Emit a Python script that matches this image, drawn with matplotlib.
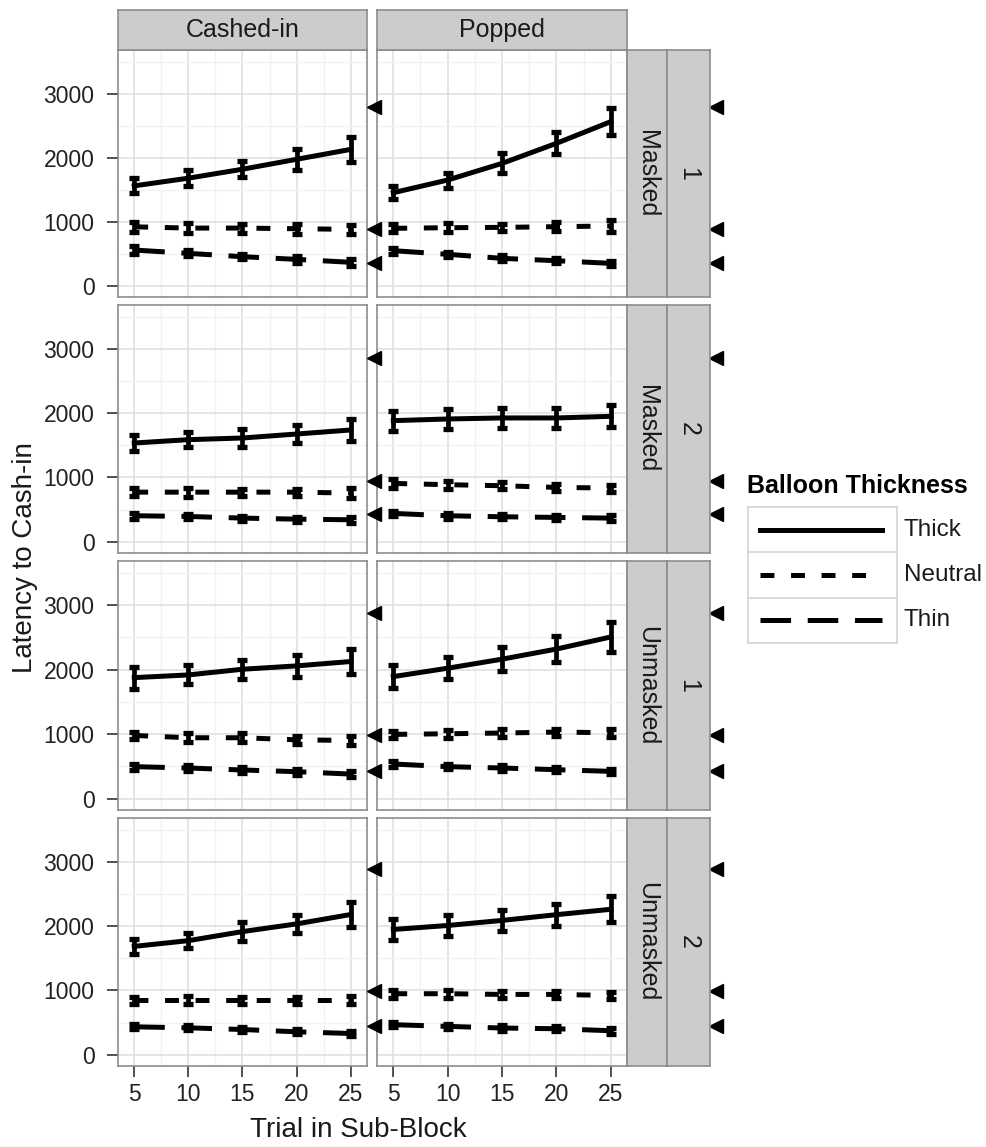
import matplotlib
matplotlib.use("Agg")
import matplotlib.pyplot as plt
import matplotlib.transforms as mtransforms
from matplotlib.lines import Line2D

plt.rcParams['font.family'] = ['Liberation Sans', 'DejaVu Sans']
plt.rcParams['lines.scale_dashes'] = False

trials = [5, 10, 15, 20, 25]
col_labels = ['Cashed-in', 'Popped']
row_masks = ['Masked', 'Masked', 'Unmasked', 'Unmasked']
row_blocks = ['1', '2', '1', '2']
thickness = ['Thick', 'Neutral', 'Thin']

# mean latency per panel, rows are Thick / Neutral / Thin
masked1_cashed = [[1560, 1680, 1820, 1975, 2130], [920, 900, 900, 890, 880], [557, 505, 453, 411, 365]]
masked1_cashed_err = [[115, 120, 125, 160, 190], [80, 80, 70, 80, 75], [60, 45, 40, 50, 55]]
masked1_popped = [[1453, 1651, 1911, 2224, 2563], [896, 906, 911, 922, 932], [547, 490, 427, 390, 349]]
masked1_popped_err = [[105, 117, 156, 170, 214], [65, 70, 60, 75, 90], [45, 40, 45, 40, 40]]

masked2_cashed = [[1535, 1587, 1613, 1675, 1738], [770, 770, 770, 770, 756], [403, 392, 366, 350, 340]]
masked2_cashed_err = [[125, 117, 135, 143, 168], [60, 70, 55, 55, 75], [45, 40, 40, 40, 45]]
masked2_popped = [[1883, 1909, 1925, 1925, 1950], [906, 886, 870, 844, 834], [439, 403, 387, 377, 366]]
masked2_popped_err = [[155, 155, 155, 160, 170], [65, 60, 55, 55, 55], [40, 45, 40, 45, 45]]

unmasked1_cashed = [[1875, 1917, 2005, 2057, 2125], [979, 943, 943, 911, 901], [495, 474, 443, 417, 380]]
unmasked1_cashed_err = [[169, 148, 148, 169, 188], [60, 70, 70, 60, 75], [45, 45, 45, 45, 50]]
unmasked1_popped = [[1891, 2021, 2161, 2318, 2505], [995, 1005, 1016, 1031, 1021], [536, 495, 474, 448, 422]]
unmasked1_popped_err = [[182, 169, 190, 203, 234], [60, 65, 55, 55, 60], [45, 40, 40, 40, 40]]

unmasked2_cashed = [[1685, 1774, 1915, 2035, 2181], [849, 849, 849, 849, 849], [433, 417, 391, 355, 329]]
unmasked2_cashed_err = [[122, 117, 143, 143, 188], [55, 65, 55, 55, 65], [40, 40, 40, 40, 40]]
unmasked2_popped = [[1948, 2010, 2089, 2178, 2262], [948, 948, 937, 937, 921], [466, 440, 414, 403, 372]]
unmasked2_popped_err = [[161, 169, 161, 169, 204], [60, 60, 55, 55, 60], [40, 35, 40, 40, 45]]

# triangle markers drawn beside each row
row_markers = [[2792, 886, 355], [2855, 948, 429], [2870, 979, 432], [2896, 991, 443]]

panels = [
    [(masked1_cashed, masked1_cashed_err), (masked1_popped, masked1_popped_err)],
    [(masked2_cashed, masked2_cashed_err), (masked2_popped, masked2_popped_err)],
    [(unmasked1_cashed, unmasked1_cashed_err), (unmasked1_popped, unmasked1_popped_err)],
    [(unmasked2_cashed, unmasked2_cashed_err), (unmasked2_popped, unmasked2_popped_err)],
]

styles = {
    'Thick': '-',
    'Neutral': (0, (10, 12)),
    'Thin': (0, (22, 12)),
}

W, H = 987, 1147
fig = plt.figure(figsize=(W / 100, H / 100), dpi=100)


def rect(x0, y0, x1, y1):
    return [x0 / W, 1 - y1 / H, (x1 - x0) / W, (y1 - y0) / H]


col_x = [(118, 367), (377, 627)]
row_y = [(50, 297), (305, 553), (561, 810), (818, 1066)]
border = '#8C8C8C'
strip_fill = '#CCCCCC'
txt = '#1A1A1A'


def strip(x0, y0, x1, y1, label, rotation=0):
    s = fig.add_axes(rect(x0, y0, x1, y1))
    s.set_facecolor(strip_fill)
    s.set_xticks([])
    s.set_yticks([])
    for sp in s.spines.values():
        sp.set_color(border)
        sp.set_linewidth(1.2)
    s.text(0.5, 0.5, label, ha='center', va='center', rotation=rotation,
           fontsize=18, color=txt, transform=s.transAxes)


for r in range(4):
    for c in range(2):
        x0, x1 = col_x[c]
        y0, y1 = row_y[r]
        ax = fig.add_axes(rect(x0, y0, x1, y1))
        ax.set_xlim(3.5, 26.5)
        ax.set_ylim(-177, 3683)
        ax.set_xticks(trials)
        ax.set_xticks([7.5, 12.5, 17.5, 22.5], minor=True)
        ax.set_yticks([0, 1000, 2000, 3000])
        ax.set_yticks([500, 1500, 2500, 3500], minor=True)
        ax.grid(which='major', color='#DEDEDE', linewidth=1.1)
        ax.grid(which='minor', color='#F2F2F2', linewidth=1.0)
        ax.set_axisbelow(True)
        for sp in ax.spines.values():
            sp.set_color(border)
            sp.set_linewidth(1.2)
        ax.tick_params(which='minor', length=0)
        ax.tick_params(which='major', length=8, width=1.2, color='#333333',
                       labelsize=16.5, labelcolor='#222222')
        ax.tick_params(axis='y', pad=9)
        ax.tick_params(axis='x', pad=4)
        if c != 0:
            ax.tick_params(axis='y', length=0, labelleft=False)
        if r != 3:
            ax.tick_params(axis='x', length=0, labelbottom=False)

        means, errs = panels[r][c]
        for k, name in enumerate(thickness):
            ax.plot(trials, means[k], color='black', linewidth=3.6,
                    linestyle=styles[name], dash_capstyle='butt', zorder=3)
            ax.errorbar(trials, means[k], yerr=errs[k], fmt='none', ecolor='black',
                        elinewidth=3.4, capsize=3.8, capthick=3.8, zorder=4)

        if c == 1:
            # both triangle columns are drawn from the right-hand panel so they sit on top
            trans = mtransforms.blended_transform_factory(ax.transAxes, ax.transData)
            for mx in (-0.01, 1.356):
                ax.plot([mx] * 3, row_markers[r], marker='<', markersize=10, color='black',
                        linestyle='none', transform=trans, clip_on=False, zorder=5)

        if r == 0:
            strip(x0, 10, x1, 50, col_labels[c])
        if c == 1:
            strip(627, y0, 667, y1, row_masks[r], rotation=-90)
            strip(667, y0, 710, y1, row_blocks[r], rotation=-90)

fig.text(25 / W, 1 - 558 / H, 'Latency to Cash-in', rotation=90, ha='center',
         va='center', fontsize=20, color=txt)
fig.text(358 / W, 1 - 1130 / H, 'Trial in Sub-Block', ha='center', va='center',
         fontsize=20, color=txt)

# legend
fig.text(747 / W, 1 - 486 / H, 'Balloon Thickness', ha='left', va='center',
         fontsize=18, fontweight='bold')
lg = fig.add_axes(rect(748, 507, 897, 643))
lg.set_xlim(0, 1)
lg.set_ylim(0, 3)
lg.set_xticks([])
lg.set_yticks([])
for sp in lg.spines.values():
    sp.set_color('#D4D4D4')
    sp.set_linewidth(1.2)
for i, name in enumerate(thickness):
    yc = 2.5 - i
    lg.add_line(Line2D([0.08, 0.9], [yc, yc], color='black', linewidth=3.6,
                       linestyle=styles[name], dash_capstyle='butt'))
    if i > 0:
        lg.axhline(3 - i, color='#D4D4D4', linewidth=1.2)
    fig.text(904 / W, 1 - (507 + (i + 0.5) * 136 / 3) / H, name, ha='left',
             va='center', fontsize=17.5, color=txt)

fig.savefig('out.png', dpi=100)
